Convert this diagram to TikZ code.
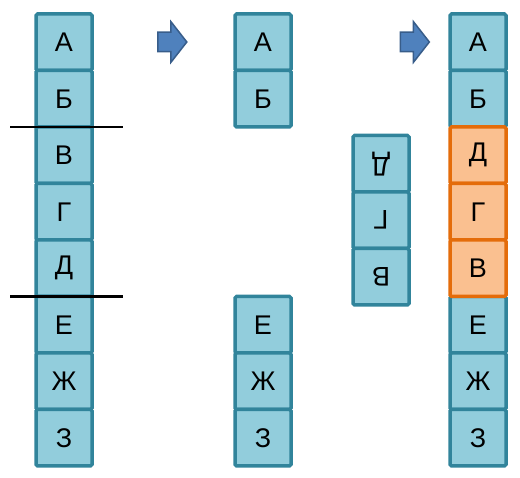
\documentclass[tikz,border=0pt]{standalone}
\usepackage{fontspec}
\setmainfont{Liberation Sans}
\usetikzlibrary{shapes.arrows}

\definecolor{cellfill}{HTML}{92CDDC}
\definecolor{celldraw}{HTML}{31849B}
\definecolor{hotfill}{HTML}{FAC090}
\definecolor{hotdraw}{HTML}{E46C0A}
\definecolor{arrfill}{HTML}{4F81BD}
\definecolor{arrdraw}{HTML}{385D8A}

\tikzset{
  cell/.style={draw=celldraw,fill=cellfill,line width=3.5pt,rounded corners=1.5pt,
    minimum width=56pt,minimum height=56.5pt,inner sep=0pt,font=\fontsize{27}{30}\selectfont},
  hotcell/.style={cell,draw=hotdraw,fill=hotfill},
  turned/.style={cell,rotate=180},
  stepper/.style={single arrow,draw=arrdraw,fill=arrfill,line width=1.5pt,inner sep=0pt,
    text height=9pt,text depth=9pt,minimum height=29pt,single arrow head extend=10.5pt,
    single arrow tip angle=104},
  cutline/.style={line width=2.2pt,black}
}

\begin{document}
\begin{tikzpicture}[x=1pt,y=-1pt]
    \useasboundingbox (0,0) rectangle (520,478);

    % исходный список
    \node[cell] (a1) at (64,42.25) {А};
    \node[cell] (b1) at (64,98.75) {Б};
    \node[cell] (v1) at (64,155.25) {В};
    \node[cell] (g1) at (64,211.75) {Г};
    \node[cell] (d1) at (64,268.25) {Д};
    \node[cell] (e1) at (64,324.75) {Е};
    \node[cell] (zh1) at (64,381.25) {Ж};
    \node[cell] (z1) at (64,437.75) {З};

    % линии разреза
    \coordinate (cut1l) at (10,127);
    \coordinate (cut1r) at (123,127);
    \coordinate (cut2l) at (10,296.5);
    \coordinate (cut2r) at (123,296.5);
    \draw[cutline] (cut1l) -- (cut1r);
    \draw[cutline] (cut2l) -- (cut2r);

    % первая стрелка
    \node[stepper] (step1) at (168.5,42) {};

    % разрезанный список
    \node[cell] (a2) at (263,42.25) {А};
    \node[cell] (b2) at (263,98.75) {Б};
    \node[cell] (e2) at (263,324.75) {Е};
    \node[cell] (zh2) at (263,381.25) {Ж};
    \node[cell] (z2) at (263,437.75) {З};

    % перевёрнутый кусок
    \node[turned] (d2) at (381,163.75) {Д};
    \node[turned] (g2) at (381,220.25) {Г};
    \node[turned] (v2) at (381,276.75) {В};

    % вторая стрелка
    \node[stepper] (step2) at (411,42) {};

    % результат
    \node[cell] (a3) at (478,42.25) {А};
    \node[cell] (b3) at (478,98.75) {Б};
    \node[cell] (e3) at (478,324.75) {Е};
    \node[cell] (zh3) at (478,381.25) {Ж};
    \node[cell] (z3) at (478,437.75) {З};
    \node[hotcell] (d3) at (478,155.25) {Д};
    \node[hotcell] (g3) at (478,211.75) {Г};
    \node[hotcell] (v3) at (478,268.25) {В};

\end{tikzpicture}
\end{document}
